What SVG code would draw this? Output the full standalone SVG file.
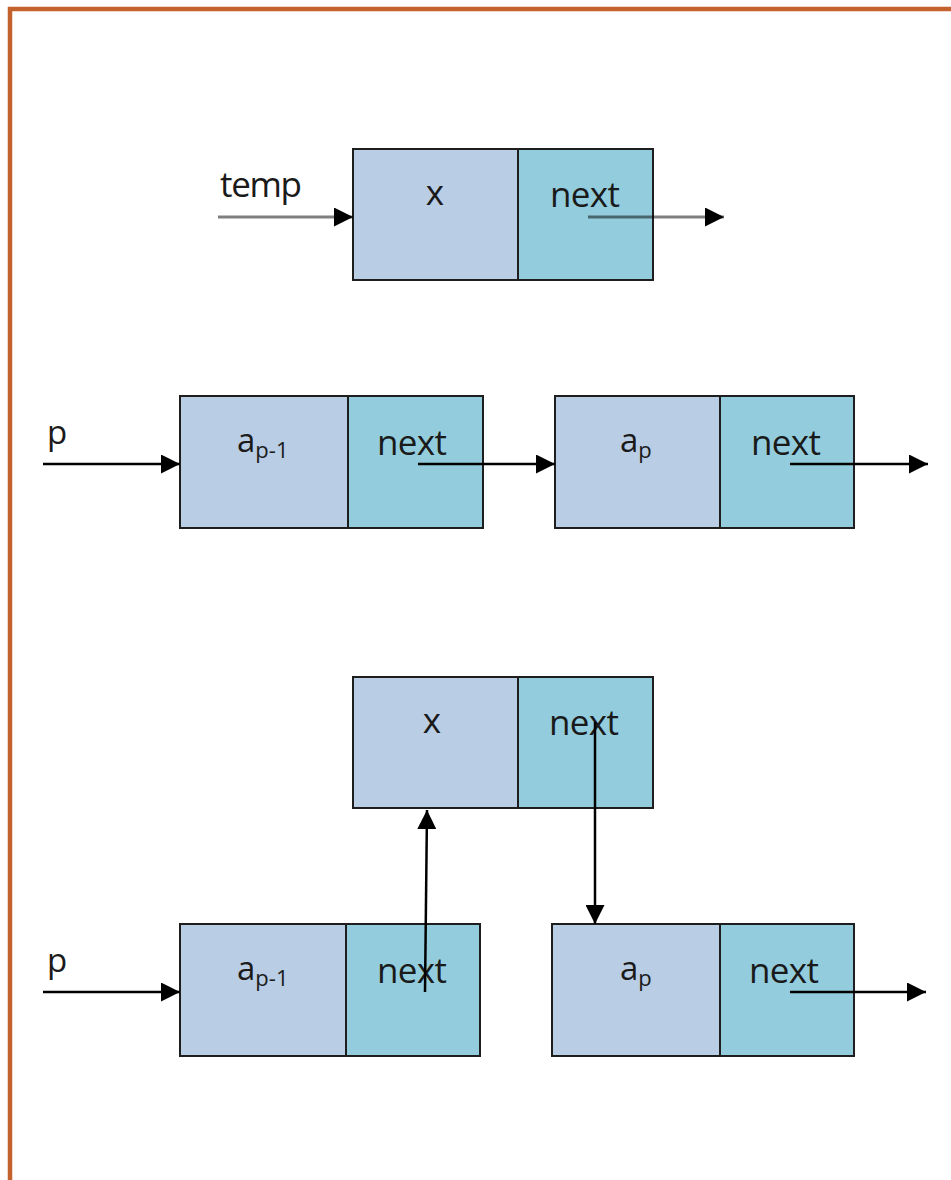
<svg xmlns="http://www.w3.org/2000/svg" width="951" height="1180" viewBox="0 0 951 1180">
  <style>
    .data { fill: #B9CDE5; stroke: #1e1e1e; stroke-width: 2; }
    .link { fill: #93CDDD; stroke: #1e1e1e; stroke-width: 2; }
    .lbl { font-family: "Open Sans", "Noto Sans", sans-serif; fill: #1a1a1a; }
    .big { font-size: 35px; }
    .var { font-size: 33px; }
    .sub { font-size: 22px; }
    .ptr { stroke: #000; stroke-width: 2.5; fill: none; marker-end: url(#head); }
    .soft { stroke-opacity: 0.5; stroke-width: 3; }
  </style>
  <defs>
    <marker id="head" viewBox="0 0 20 20" refX="20" refY="10" markerUnits="userSpaceOnUse" markerWidth="20" markerHeight="19" orient="auto">
      <path d="M0,0 L20,10 L0,20 Z" fill="#000"/>
    </marker>
  </defs>

  <rect width="951" height="1180" fill="#fff"/>
  <!-- page frame -->
  <path d="M10,1180 V9 H951" fill="none" stroke="#C4622D" stroke-width="4.5"/>

  <!-- new node pointed to by temp -->
  <g id="node-temp-x">
    <rect class="data" x="353" y="149" width="165" height="131"/>
    <rect class="link" x="518" y="149" width="135" height="131"/>
    <text class="lbl big" x="435" y="205" text-anchor="middle">x</text>
    <text class="lbl big" x="585" y="207" text-anchor="middle" textLength="70">next</text>
  </g>
  <text id="label-temp" class="lbl big" x="220" y="197" textLength="82">temp</text>

  <!-- list before insertion -->
  <text id="label-p1" class="lbl var" x="47" y="444">p</text>
  <g id="node-ap1-before">
    <rect class="data" x="180" y="396" width="168" height="132"/>
    <rect class="link" x="348" y="396" width="135" height="132"/>
    <text class="lbl var" x="237" y="452">a<tspan class="sub" dy="6">p-1</tspan></text>
    <text class="lbl big" x="412" y="455" text-anchor="middle" textLength="70">next</text>
  </g>
  <g id="node-ap-before">
    <rect class="data" x="555" y="396" width="165" height="132"/>
    <rect class="link" x="720" y="396" width="134" height="132"/>
    <text class="lbl var" x="620" y="452">a<tspan class="sub" dy="6">p</tspan></text>
    <text class="lbl big" x="786" y="455" text-anchor="middle" textLength="70">next</text>
  </g>

  <!-- list after insertion -->
  <g id="node-x-after">
    <rect class="data" x="353" y="677" width="165" height="131"/>
    <rect class="link" x="518" y="677" width="135" height="131"/>
    <text class="lbl big" x="432" y="733" text-anchor="middle">x</text>
    <text class="lbl big" x="584" y="735" text-anchor="middle" textLength="70">next</text>
  </g>
  <text id="label-p2" class="lbl var" x="47" y="972">p</text>
  <g id="node-ap1-after">
    <rect class="data" x="180" y="924" width="166" height="132"/>
    <rect class="link" x="346" y="924" width="134" height="132"/>
    <text class="lbl var" x="237" y="980">a<tspan class="sub" dy="6">p-1</tspan></text>
    <text class="lbl big" x="412" y="983" text-anchor="middle" textLength="70">next</text>
  </g>
  <g id="node-ap-after">
    <rect class="data" x="552" y="924" width="168" height="132"/>
    <rect class="link" x="720" y="924" width="134" height="132"/>
    <text class="lbl var" x="620" y="980">a<tspan class="sub" dy="6">p</tspan></text>
    <text class="lbl big" x="784" y="983" text-anchor="middle" textLength="70">next</text>
  </g>

  <g id="connectors">
    <line class="ptr soft" x1="218" y1="217" x2="353" y2="217"/>
    <line class="ptr soft" x1="588" y1="217" x2="724" y2="217"/>
    <line class="ptr" x1="43" y1="464" x2="180" y2="464"/>
    <line class="ptr" x1="418" y1="464" x2="555" y2="464"/>
    <line class="ptr" x1="790" y1="464" x2="928" y2="464"/>
    <line class="ptr" x1="43" y1="992" x2="180" y2="992"/>
    <line class="ptr" x1="425" y1="992" x2="427" y2="810" stroke="#333"/>
    <line class="ptr" x1="595" y1="722" x2="595" y2="924"/>
    <line class="ptr" x1="790" y1="992" x2="926" y2="992"/>
  </g>
</svg>
